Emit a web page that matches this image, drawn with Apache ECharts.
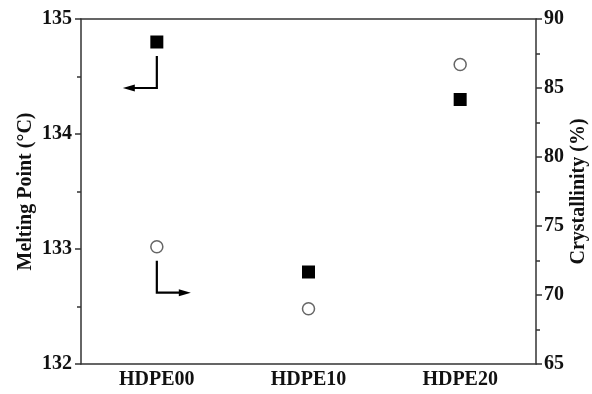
<!DOCTYPE html>
<html>
<head>
<meta charset="utf-8">
<script src="https://cdn.jsdelivr.net/npm/echarts@6/dist/echarts.min.js"></script>
<style>
  html, body { margin: 0; padding: 0; background: #fff; }
  #chart { width: 592px; height: 394px; }
</style>
</head>
<body>
<div id="chart"></div>
<script>
// 样品
const categories = ['HDPE00', 'HDPE10', 'HDPE20'];
// 熔点 (°C)
const meltingPoint = [134.8, 132.8, 134.3];
// 结晶度 (%)
const crystallinity = [73.5, 69.0, 86.7];

const font = '"Liberation Serif", "Times New Roman", serif';
const axisColor = '#333';

const chart = echarts.init(document.getElementById('chart'));

const catAxis = {
    type: 'category',
    data: categories,
    axisLine: { lineStyle: { color: axisColor, width: 1.5 } },
    axisTick: { alignWithLabel: true, length: 5, lineStyle: { color: axisColor, width: 1.5 } },
    splitLine: { show: false }
};

chart.setOption({
    animation: false,
    grid: { left: 81, right: 56, top: 19, bottom: 30, outerBoundsMode: 'none', containLabel: false },
    xAxis: [
        Object.assign({}, catAxis, {
            position: 'bottom',
            axisLabel: { fontFamily: font, fontWeight: 'bold', fontSize: 20, color: '#111', margin: 6 }
        }),
        Object.assign({}, catAxis, {
            position: 'top',
            axisTick: { alignWithLabel: true, inside: true, length: 5, lineStyle: { color: axisColor, width: 1.5 } },
            axisLabel: { show: false }
        })
    ],
    yAxis: [{
        type: 'value',
        position: 'left',
        min: 132, max: 135, interval: 1,
        name: 'Melting Point (\u00B0C)',
        nameLocation: 'middle',
        nameGap: 45,
        nameMoveOverlap: false,
        nameTextStyle: { fontFamily: font, fontWeight: 'bold', fontSize: 20, color: '#111' },
        axisLine: { show: true, lineStyle: { color: axisColor, width: 1.5 } },
        axisTick: { show: true, length: 6, lineStyle: { color: axisColor, width: 1.5 } },
        minorTick: { show: true, splitNumber: 2, length: 4, lineStyle: { color: axisColor, width: 1.5 } },
        axisLabel: { fontFamily: font, fontWeight: 'bold', fontSize: 20, color: '#111', margin: 9 },
        splitLine: { show: false }
    }, {
        type: 'value',
        position: 'right',
        min: 65, max: 90, interval: 5,
        name: 'Crystallinity (%)',
        nameLocation: 'middle',
        nameGap: 33,
        nameRotate: 90,
        nameMoveOverlap: false,
        nameTextStyle: { fontFamily: font, fontWeight: 'bold', fontSize: 20, color: '#111' },
        axisLine: { show: true, lineStyle: { color: axisColor, width: 1.5 } },
        axisTick: { show: true, length: 6, lineStyle: { color: axisColor, width: 1.5 } },
        minorTick: { show: true, splitNumber: 2, length: 4, lineStyle: { color: axisColor, width: 1.5 } },
        axisLabel: { fontFamily: font, fontWeight: 'bold', fontSize: 20, color: '#111', margin: 8 },
        splitLine: { show: false }
    }],
    series: [{
        name: 'Melting Point',
        type: 'scatter',
        xAxisIndex: 0,
        yAxisIndex: 0,
        symbol: 'rect',
        symbolSize: 13,
        itemStyle: { color: '#000', opacity: 1 },
        data: meltingPoint
    }, {
        name: 'Crystallinity',
        type: 'scatter',
        xAxisIndex: 0,
        yAxisIndex: 1,
        symbol: 'circle',
        symbolSize: 12,
        itemStyle: { color: '#fff', borderColor: '#666', borderWidth: 1.5, opacity: 1 },
        data: crystallinity
    }]
});

// 箭头标注，位置由第一个点换算
function arrow(p, dir) {
    // p: 点的像素坐标, dir: -1 指向左, 1 指向右
    const x = p[0], y0 = p[1] + 14, y1 = p[1] + 46;
    const x2 = x + dir * 34;
    return [{
        type: 'polyline',
        shape: { points: [[x, y0], [x, y1], [x2 - dir * 8, y1]] },
        style: { stroke: '#000', lineWidth: 2.2, fill: null }
    }, {
        type: 'polygon',
        shape: { points: [[x2, y1], [x2 - dir * 12, y1 - 3.5], [x2 - dir * 12, y1 + 3.5]] },
        style: { fill: '#000' }
    }];
}
const pSq = chart.convertToPixel({ xAxisIndex: 0, yAxisIndex: 0 }, [0, meltingPoint[0]]);
const pCi = chart.convertToPixel({ xAxisIndex: 0, yAxisIndex: 1 }, [0, crystallinity[0]]);
chart.setOption({ graphic: arrow(pSq, -1).concat(arrow(pCi, 1)) });
</script>
</body>
</html>
